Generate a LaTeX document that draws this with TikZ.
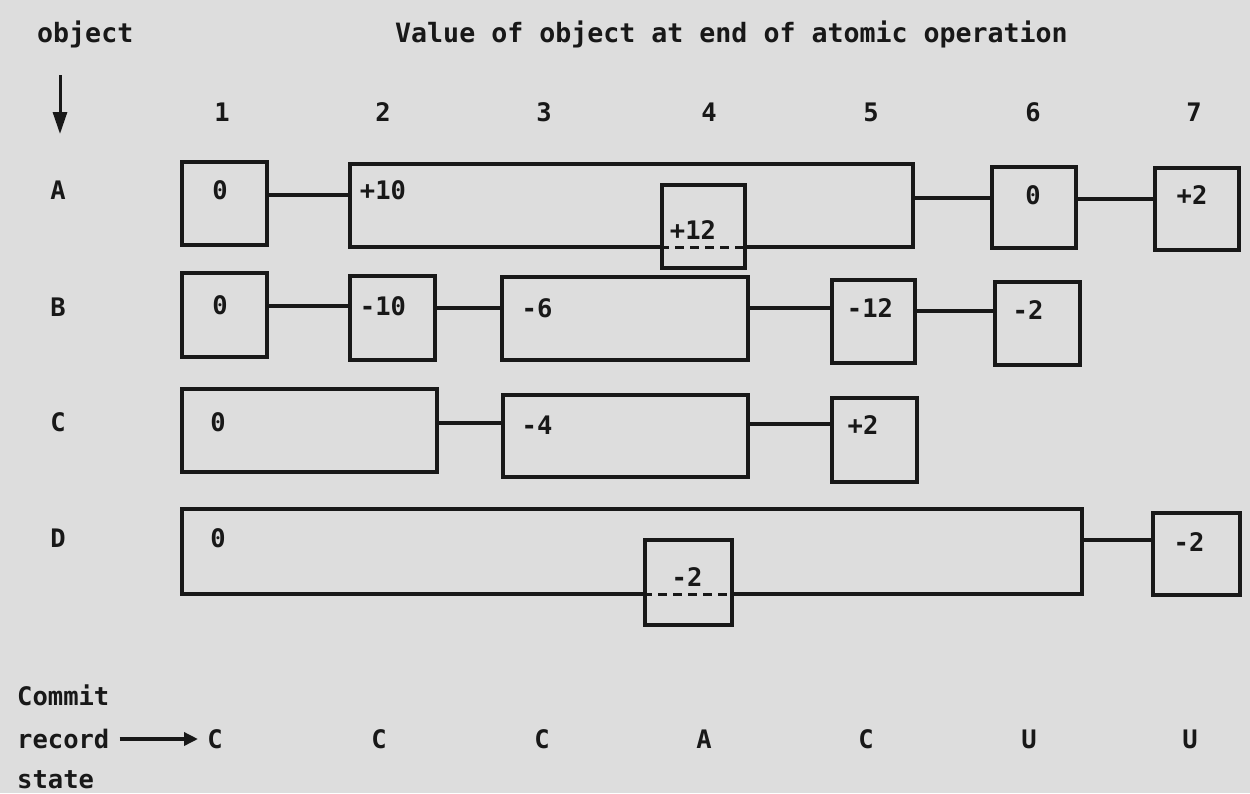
\documentclass[tikz,border=0pt]{standalone}
\usepackage{fontspec}
\setmainfont{DejaVu Sans Mono}
\usetikzlibrary{arrows.meta}
\definecolor{ink}{RGB}{24,24,24}
\definecolor{paper}{RGB}{221,221,221}
\newcommand\mkbox[5]{\node[bx, minimum width={#4-#2}, minimum height={#5-#3}] (#1) at ({(#2+#4)/2},{(#3+#5)/2}) {};}
\tikzset{
  x=1pt, y=-1pt,
  txt/.style={text=ink, font=\bfseries\fontsize{25.5}{30}\selectfont, inner sep=0pt, text height=18pt, text depth=0pt},
  head/.style={txt, font=\bfseries\fontsize{26.6}{31}\selectfont},
  bx/.style={draw=ink, line width=3.6pt, inner sep=0pt, fill=paper},
  conn/.style={draw=ink, line width=3.2pt},
  dashline/.style={draw=ink, line width=3pt, dash pattern=on 9pt off 6pt},
}
\begin{document}
\begin{tikzpicture}
\fill[paper] (0,0) rectangle (1250,793);
\useasboundingbox (0,0) rectangle (1250,793);

% header
\node[head, anchor=west] (hobj) at (37,33) {object};
\node[head, anchor=west] (hval) at (395,33) {Value of object at end of atomic operation};
\coordinate (arrS) at (60,75);
\coordinate (arrE) at (60,134);
\draw[ink, line width=3pt, -{Triangle[width=14pt,length=22pt]}] (arrS) -- (arrE);
\node[txt] (n1) at (222,112) {1};
\node[txt] (n2) at (383,112) {2};
\node[txt] (n3) at (544,112) {3};
\node[txt] (n4) at (709,112) {4};
\node[txt] (n5) at (871,112) {5};
\node[txt] (n6) at (1033,112) {6};
\node[txt] (n7) at (1194,112) {7};

% row labels
\node[txt] (lA) at (58,190) {A};
\node[txt] (lB) at (58,307) {B};
\node[txt] (lC) at (58,422) {C};
\node[txt] (lD) at (58,538) {D};

% row A
\mkbox{A1}{182}{162}{267}{245}
\mkbox{A2}{350}{164}{913}{247}
\mkbox{A4}{662}{185}{745}{268}
\mkbox{A6}{992}{167}{1076}{248}
\mkbox{A7}{1155}{168}{1239}{250}
\draw[dashline] (A4.west |- 0,247) -- (A4.east |- 0,247);
\draw[conn] (A1.east |- 0,195) -- (A2.west |- 0,195);
\draw[conn] (A2.east |- 0,198) -- (A6.west |- 0,198);
\draw[conn] (A6.east |- 0,199) -- (A7.west |- 0,199);
\node[txt] (A1v) at (220,190) {0};
\node[txt] (A2v) at (383,190) {+10};
\node[txt] (A4v) at (693,230) {+12};
\node[txt] (A6v) at (1033,195) {0};
\node[txt] (A7v) at (1192,195) {+2};

% row B
\mkbox{B1}{182}{273}{267}{357}
\mkbox{B2}{350}{276}{435}{360}
\mkbox{B3}{502}{277}{748}{360}
\mkbox{B4}{832}{280}{915}{363}
\mkbox{B5}{995}{282}{1080}{365}
\draw[conn] (B1.east |- 0,306) -- (B2.west |- 0,306);
\draw[conn] (B2.east |- 0,308) -- (B3.west |- 0,308);
\draw[conn] (B3.east |- 0,308) -- (B4.west |- 0,308);
\draw[conn] (B4.east |- 0,311) -- (B5.west |- 0,311);
\node[txt] (B1v) at (220,305) {0};
\node[txt] (B2v) at (383,306) {-10};
\node[txt] (B3v) at (537,308) {-6};
\node[txt] (B4v) at (870,308) {-12};
\node[txt] (B5v) at (1028,310) {-2};

% row C
\mkbox{C1}{182}{389}{437}{472}
\mkbox{C2}{503}{395}{748}{477}
\mkbox{C3}{832}{398}{917}{482}
\draw[conn] (C1.east |- 0,423) -- (C2.west |- 0,423);
\draw[conn] (C2.east |- 0,424) -- (C3.west |- 0,424);
\node[txt] (C1v) at (218,422) {0};
\node[txt] (C2v) at (537,425) {-4};
\node[txt] (C3v) at (863,425) {+2};

% row D
\mkbox{D1}{182}{509}{1082}{594}
\mkbox{D4}{645}{540}{732}{625}
\mkbox{D7}{1153}{513}{1240}{595}
\draw[dashline] (D4.west |- 0,594) -- (D4.east |- 0,594);
\draw[conn] (D1.east |- 0,540) -- (D7.west |- 0,540);
\node[txt] (D1v) at (218,538) {0};
\node[txt] (D4v) at (687,577) {-2};
\node[txt] (D7v) at (1189,542) {-2};

% commit record state
\node[txt, anchor=west] (cm) at (17,696) {Commit};
\node[txt, anchor=west] (rc) at (17,739) {record};
\node[txt, anchor=west] (st) at (17,779) {state};
\node[txt] (s1) at (215,739) {C};
\node[txt] (s2) at (379,739) {C};
\node[txt] (s3) at (542,739) {C};
\node[txt] (s4) at (704,739) {A};
\node[txt] (s5) at (866,739) {C};
\node[txt] (s6) at (1029,739) {U};
\node[txt] (s7) at (1190,739) {U};
\draw[ink, line width=3.4pt, -{Triangle[width=13pt,length=14pt]}] (rc.east) ++(10,0) coordinate (ra) -- (s1.west -| 198,0);
\end{tikzpicture}
\end{document}
